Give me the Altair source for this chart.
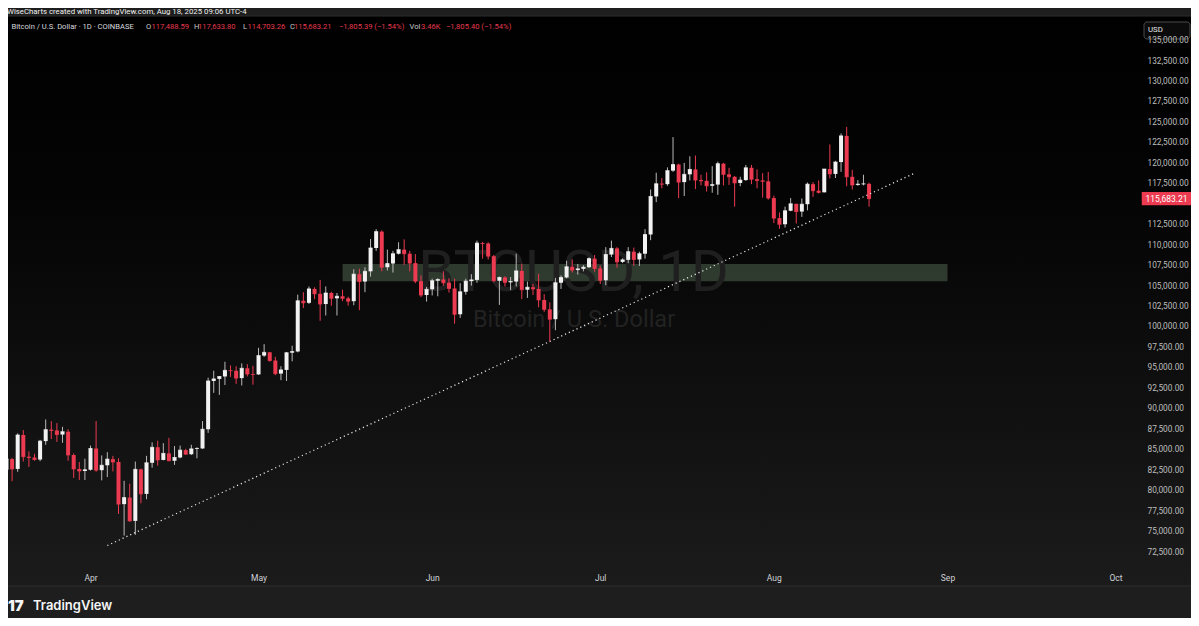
import json
import altair as alt
import pandas as pd

# ---------------- data ----------------
DATES = ([f"2025-03-{d:02d}" for d in range(17, 32)] + [f"2025-04-{d:02d}" for d in range(1, 31)]
         + [f"2025-05-{d:02d}" for d in range(1, 32)] + [f"2025-06-{d:02d}" for d in range(1, 31)]
         + [f"2025-07-{d:02d}" for d in range(1, 32)] + [f"2025-08-{d:02d}" for d in range(1, 19)])

OPEN = [
    82550, 83850, 82650, 86800, 84150, 84050, 83800, 86050, 87450, 87350, 86850, 87200, 84350, 82650, 82400,
    82550, 85150, 82500, 83100, 83850, 83500, 78350, 79150, 76300, 82600, 79600, 83400, 85300, 83750, 84550,
    83650, 84050, 84950, 84450, 85100, 85150, 87500, 93400, 93650, 93950, 94700, 94650, 93750, 94950, 94250,
    94200, 96500, 96900, 95900, 94300, 94750, 96850, 97000, 103200, 102950, 104650, 104050, 102800, 104150, 103500,
    103750, 103500, 103150, 106450, 105550, 106800, 109650, 111650, 107300, 107750, 108950, 109450, 108950, 107800, 105600,
    103900,
    104600, 105650, 105800, 105400, 104700, 101550, 104300, 105600, 105750, 110250, 110200, 108650, 105650, 106050, 105450,
    105550, 106850, 104550, 104850, 104650, 103300, 102150, 100950, 105400, 106050, 107350, 106950, 107100, 107300, 108350,
    107150, 105700, 108850, 109600, 107950, 108200, 109200, 108250, 108950, 111300, 115950, 117500, 117450, 119100, 119850,
    117700, 118650, 119250, 117950, 117850, 117250, 117400, 119950, 118650, 118350, 117600, 117950, 119450, 118050, 117900,
    117800,
    115750, 113300, 112550, 114200, 115050, 114100, 115000, 117450, 116650, 116450, 119300, 118700, 120150, 123350, 118350,
    117350, 117450, 117488.59,
]
HIGH = [
    84650, 84000, 87000, 87400, 84800, 84500, 86200, 88700, 88500, 88250, 87800, 87500, 84550, 83500, 83900,
    85500, 88500, 84300, 84700, 84250, 83950, 81200, 80850, 83550, 82700, 84250, 85900, 86100, 85800, 86450,
    85450, 85500, 85100, 85600, 85300, 88500, 93800, 94650, 94000, 95750, 95300, 95200, 95550, 95450, 95250,
    97450, 97900, 96950, 96350, 95200, 96950, 97700, 103950, 104250, 104950, 104850, 105750, 104950, 104300, 104150,
    104550, 103700, 107050, 107100, 107300, 110750, 111950, 111800, 109450, 109300, 110350, 110700, 109300, 108900, 106300,
    104900,
    105900, 105950, 106800, 105950, 105900, 105350, 105900, 106450, 110550, 110400, 110350, 108800, 106150, 106200, 106100,
    108950, 107750, 105550, 105250, 106500, 104000, 103000, 106000, 106300, 108100, 108250, 107700, 107550, 108500, 108800,
    107500, 109750, 110550, 109750, 108400, 109750, 109700, 109200, 111950, 116800, 118850, 118200, 119500, 123200, 119950,
    120050, 120850, 120950, 118600, 118900, 119650, 120200, 120050, 119450, 118450, 118350, 119800, 119800, 119250, 118800,
    118950,
    116050, 114000, 114700, 115750, 115050, 115700, 117650, 117700, 117900, 119300, 122300, 120300, 123650, 124450, 119200,
    117950, 118600, 117633.80,
]
LOW = [
    82300, 81150, 82300, 83550, 82900, 83650, 83600, 85600, 86300, 85950, 85850, 83650, 81550, 81300, 81300,
    82450, 82300, 81250, 81650, 82350, 77150, 74500, 76200, 74600, 78450, 78950, 82800, 83050, 83700, 83600,
    83150, 83950, 84400, 84350, 83950, 85100, 87050, 91950, 91700, 92900, 93900, 93050, 92850, 93950, 92950,
    94150, 96350, 95750, 94100, 93500, 93400, 95800, 96900, 102300, 102800, 103400, 100750, 101400, 102600, 101400,
    103150, 102600, 102650, 102050, 104250, 106150, 109300, 106800, 106900, 106650, 108850, 107600, 106800, 105350, 103650,
    103100,
    103850, 103750, 105050, 104200, 100400, 101100, 103950, 105050, 105400, 108350, 108250, 105450, 102700, 104950, 104500,
    104950, 103400, 103550, 103900, 102400, 101850, 98200, 99600, 104650, 105950, 106650, 106400, 106800, 107200, 106750,
    105250, 105100, 108550, 107250, 107800, 107800, 107500, 107450, 108350, 110600, 115250, 116950, 117250, 118950, 115750,
    116000, 117900, 116850, 117300, 116550, 116400, 116150, 117300, 117350, 114700, 117200, 117850, 117450, 116950, 115800,
    115550,
    112700, 112000, 112150, 114150, 112650, 113450, 114250, 115900, 116300, 116450, 118150, 118200, 118950, 117200, 116800,
    117250, 117300, 114703.26,
]
CLOSE = [
    83850, 82650, 86800, 84150, 84050, 83800, 86050, 87450, 87350, 86850, 87200, 84350, 82650, 82400, 82550,
    85150, 82500, 83100, 83850, 83500, 78350, 79150, 76300, 82600, 79600, 83400, 85300, 83750, 84550, 83650,
    84050, 84950, 84450, 85100, 85150, 87500, 93400, 93650, 93950, 94700, 94650, 93750, 94950, 94250, 94200,
    96500, 96900, 95900, 94300, 94750, 96850, 97000, 103200, 102950, 104650, 104050, 102800, 104150, 103500, 103750,
    103500, 103150, 106450, 105550, 106800, 109650, 111650, 107300, 107750, 108950, 109450, 108950, 107800, 105600, 103900,
    104600,
    105650, 105800, 105400, 104700, 101550, 104300, 105600, 105750, 110250, 110200, 108650, 105650, 106050, 105450, 105550,
    106850, 104550, 104850, 104650, 103300, 102150, 100950, 105400, 106050, 107350, 106950, 107100, 107300, 108350, 107150,
    105700, 108850, 109600, 107950, 108200, 109200, 108250, 108950, 111300, 115950, 117500, 117450, 119100, 119850, 117700,
    118650, 119250, 117950, 117850, 117250, 117400, 119950, 118650, 118350, 117600, 117950, 119450, 118050, 117900, 117800,
    115750,
    113300, 112550, 114200, 115050, 114100, 115000, 117450, 116650, 116450, 119300, 118700, 120150, 123350, 118350, 117350,
    117450, 117488.59, 115683.21,
]

MONTH_DATES = ["2025-04-01", "2025-05-01", "2025-06-01", "2025-07-01", "2025-08-01", "2025-09-01", "2025-10-01"]
MONTH_LABELS = ["Apr", "May", "Jun", "Jul", "Aug", "Sep", "Oct"]
# 115,000 sits under the last-price label in the reference, so it is not listed
Y_TICKS = [72500, 75000, 77500, 80000, 82500, 85000, 87500, 90000, 92500, 95000, 97500, 100000, 102500,
           105000, 107500, 110000, 112500, 117500, 120000, 122500, 125000, 127500, 130000, 132500, 135000]

ZONE_DATES = ["2025-05-16", "2025-09-01"]
ZONE_PRICES = [105600, 107700]
TREND_DATES = ["2025-04-04", "2025-08-26"]
TREND_PRICES = [73300, 118750]

CREDIT = "WiseCharts created with TradingView.com, Aug 18, 2025 09:06 UTC-4"
LEGEND_TEXT = ["Bitcoin / U.S. Dollar · 1D · COINBASE", "O", "117,488.59", "H", "117,633.80", "L", "114,703.26",
               "C", "115,683.21", "−1,805.39 (−1.54%)", "Vol", "3.46K", "−1,805.40 (−1.54%)"]
LEGEND_KIND = ["name", "key", "val", "key", "val", "key", "val", "key", "val", "val", "key", "val", "val"]
WATERMARK = ["BTCUSD, 1D", "Bitcoin / U.S. Dollar"]

# ---------------- layout / styles ----------------
W, H = 1133, 550
REF = pd.Timestamp("2025-04-01")
X_DOMAIN = [-14.73, 187.55]
Y_DOMAIN = [70667, 137877]
UP, DOWN = "#f2f2f2", "#ec3a50"
UP_WICK = "#b9b9b9"
FONT = "Roboto"


def days(ds):
    return [(pd.Timestamp(d) - REF).days for d in ds]


df = pd.DataFrame(dict(date=DATES, open=OPEN, high=HIGH, low=LOW, close=CLOSE))
df["day"] = days(df["date"])

xs = alt.Scale(domain=X_DOMAIN, nice=False, zero=False, padding=0)
ys = alt.Scale(domain=Y_DOMAIN, nice=False, zero=False, padding=0)
month_days = days(MONTH_DATES)
label_expr = f"{json.dumps(MONTH_LABELS)}[indexof({json.dumps(month_days)}, datum.value)]"

x_axis = alt.Axis(values=month_days, labelExpr=label_expr, ticks=False, domain=False, grid=False,
                  labelPadding=6, labelFontSize=8.5, labelColor="#cfd2d8", labelFont=FONT, title=None, zindex=2)
y_axis = alt.Axis(orient="right", values=Y_TICKS, format=",.2f", ticks=False, domain=False, grid=False,
                  labelPadding=6, labelFontSize=8.3, labelColor="#bdbdbd", labelFont=FONT, labelAlign="left",
                  title=None, zindex=1)

one = pd.DataFrame({"k": [0]})
is_up = "datum.close >= datum.open"

# panel background with vertical gradient
panel = alt.Chart(one).mark_rect(
    color=alt.LinearGradient(gradient="linear", x1=0, x2=0, y1=0, y2=1,
                             stops=[alt.GradientStop(color="#000000", offset=0),
                                    alt.GradientStop(color="#050505", offset=0.35),
                                    alt.GradientStop(color="#1b1b1b", offset=1)]),
    stroke="#2c2c2c", strokeWidth=1,
).encode(x=alt.value(-1), x2=alt.value(1184), y=alt.value(-1), y2=alt.value(569))

zone_df = pd.DataFrame({"d0": [days(ZONE_DATES)[0]], "d1": [days(ZONE_DATES)[1]],
                        "p0": [ZONE_PRICES[0]], "p1": [ZONE_PRICES[1]]})
zone = alt.Chart(zone_df).mark_rect(color="#8aae8a", opacity=0.3).encode(
    x=alt.X("d0:Q", scale=xs, axis=x_axis), x2="d1:Q",
    y=alt.Y("p0:Q", scale=ys, axis=y_axis), y2="p1:Q")

wm = pd.DataFrame({"t": WATERMARK, "row": [0, 1]})
watermark1 = alt.Chart(wm[wm.row == 0]).mark_text(fontSize=58, font=FONT, color="#1f1f1f", align="center",
                                                   baseline="middle").encode(
    x=alt.value(565.5), y=alt.value(257), text="t:N")
watermark2 = alt.Chart(wm[wm.row == 1]).mark_text(fontSize=23.5, font=FONT, color="#222222", align="center",
                                                   baseline="middle").encode(
    x=alt.value(566), y=alt.value(303), text="t:N")

wicks = alt.Chart(df).mark_rule(strokeWidth=1).encode(
    x=alt.X("day:Q", scale=xs, axis=x_axis),
    y=alt.Y("low:Q", scale=ys, axis=y_axis), y2="high:Q",
    color=alt.condition(is_up, alt.value(UP_WICK), alt.value(DOWN)))

bodies = alt.Chart(df).mark_bar(size=4).encode(
    x=alt.X("day:Q", scale=xs, axis=x_axis),
    y=alt.Y("open:Q", scale=ys, axis=y_axis), y2="close:Q",
    color=alt.condition(is_up, alt.value(UP), alt.value(DOWN)))

doji = alt.Chart(df).mark_tick(orient="horizontal", size=4, thickness=1).encode(
    x=alt.X("day:Q", scale=xs, axis=x_axis),
    y=alt.Y("close:Q", scale=ys, axis=y_axis),
    color=alt.condition(is_up, alt.value(UP), alt.value(DOWN)))

trend_df = pd.DataFrame({"day": days(TREND_DATES), "price": TREND_PRICES})
trend = alt.Chart(trend_df).mark_line(color="#e6e6e6", strokeWidth=1.2, strokeDash=[1.2, 3]).encode(
    x=alt.X("day:Q", scale=xs, axis=x_axis), y=alt.Y("price:Q", scale=ys, axis=y_axis))

last = df.tail(1)
price_box = alt.Chart(last).mark_point(
    shape="M-1,-0.265L1,-0.265L1,0.265L-1,0.265Z", size=2450, filled=True, opacity=1,
    color=DOWN, strokeWidth=0).encode(
    x=alt.value(1158.5), y=alt.Y("close:Q", scale=ys, axis=y_axis))
price_txt = alt.Chart(last).mark_text(color="#ffffff", fontSize=8.5, font=FONT, align="center",
                                      baseline="middle").encode(
    x=alt.value(1158.5), y=alt.Y("close:Q", scale=ys, axis=y_axis),
    text=alt.Text("close:Q", format=",.2f"))

usd_box = alt.Chart(one).mark_rect(fill="#0b0b0b", stroke="#4a4a4a", strokeWidth=1, cornerRadius=3).encode(
    x=alt.value(1136), x2=alt.value(1182), y=alt.value(5), y2=alt.value(22))
usd_txt = alt.Chart(pd.DataFrame({"t": ["USD"]})).mark_text(
    color="#e8e8e8", fontSize=7.8, font=FONT, align="left", baseline="middle").encode(
    x=alt.value(1140), y=alt.value(13), text="t:N")

credit = alt.Chart(pd.DataFrame({"t": [CREDIT]})).mark_text(
    color="#f0f0f0", fontSize=7.8, font=FONT, align="left", baseline="middle").encode(
    x=alt.value(-1), y=alt.value(-5), text="t:N")

# legend row: pixel offsets converted into the x scale's units
LEG_X = [3.5, 138, 143.5, 186, 190, 235, 239.6, 282, 286, 331, 401.5, 413, 438]
leg_df = pd.DataFrame({"t": LEGEND_TEXT, "kind": LEGEND_KIND})
leg_df["pos"] = [X_DOMAIN[0] + p * (X_DOMAIN[1] - X_DOMAIN[0]) / W for p in LEG_X]
legend_line = alt.Chart(leg_df).mark_text(fontSize=7.6, font=FONT, align="left", baseline="middle").encode(
    x=alt.X("pos:Q", scale=xs, axis=x_axis),
    y=alt.value(10), text="t:N",
    color=alt.Color("kind:N", scale=alt.Scale(domain=["name", "key", "val"],
                                              range=["#d6d8dd", "#c8c8c8", "#e5394e"]), legend=None))

logo_icon = alt.Chart(pd.DataFrame({"t": ["17"]})).mark_text(
    color="#f5f5f5", fontSize=15, font="Inter", fontWeight=900, align="left", baseline="middle").encode(
    x=alt.value(0), y=alt.value(589), text="t:N")
logo_txt = alt.Chart(pd.DataFrame({"t": ["TradingView"]})).mark_text(
    color="#f5f5f5", fontSize=13, font="Inter", fontWeight=600, align="left", baseline="middle").encode(
    x=alt.value(25), y=alt.value(589), text="t:N")

chart = alt.layer(
    panel, zone, watermark1, watermark2, wicks, bodies, doji, trend,
    price_box, price_txt, usd_box, usd_txt, credit, legend_line, logo_icon, logo_txt,
).resolve_scale(color="independent").properties(
    width=W, height=H,
    autosize=alt.AutoSizeParams(type="none"),
    padding={"left": 0, "top": 9, "right": 50, "bottom": 51},
    background="#1e1e1e",
).configure_view(stroke=None)

chart.save("out.html", embed_options={"renderer": "svg", "actions": False})
